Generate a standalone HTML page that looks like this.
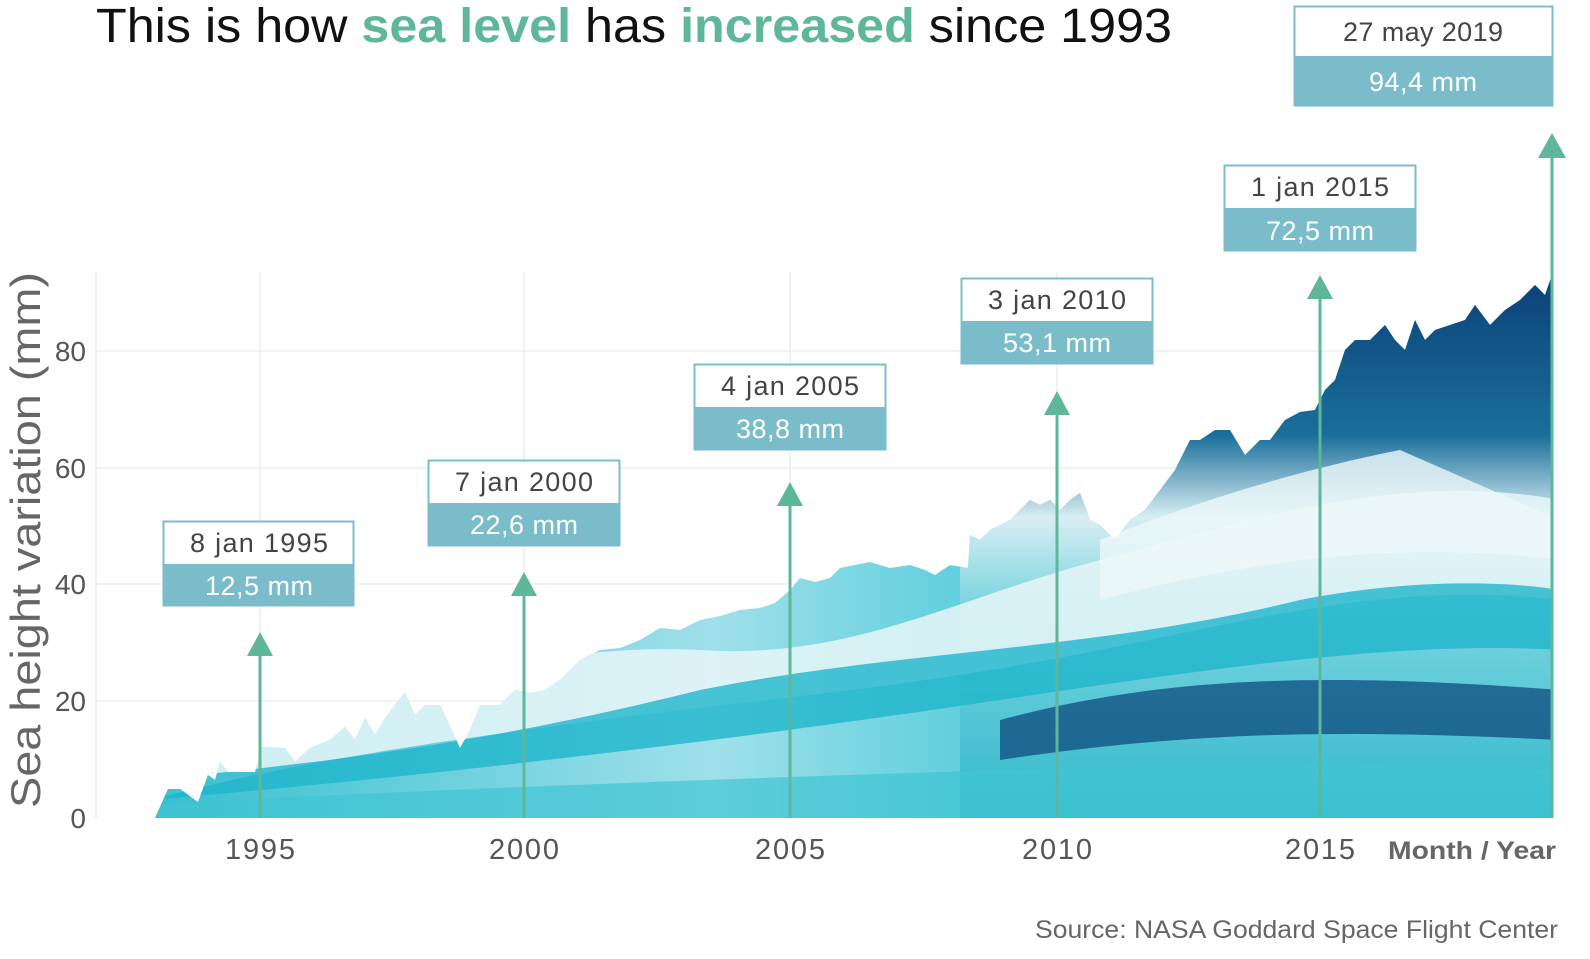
<!DOCTYPE html>
<html><head><meta charset="utf-8"><style>
body{margin:0;background:#fff;}
svg{display:block;font-family:"Liberation Sans",sans-serif;}
</style></head><body>
<svg width="1590" height="959" viewBox="0 0 1590 959" xmlns="http://www.w3.org/2000/svg">
<defs>
<clipPath id="c"><polygon points="155,818 168,789 180,789 198,802 208,775 215,780 220,762 228,772 255,772 262,747 285,748 295,762 310,748 330,740 345,727 355,740 365,718 375,735 385,718 395,705 405,692 415,715 425,705 440,705 445,715 460,748 470,730 480,705 500,705 515,690 530,693 545,690 560,680 580,660 600,650 620,648 640,640 660,628 680,630 700,620 720,616 740,610 760,608 775,603 790,590 800,578 815,582 830,578 840,568 855,565 870,562 890,568 910,565 925,570 935,575 950,565 968,568 970,535 980,540 990,530 1000,525 1010,520 1020,510 1030,500 1040,505 1050,500 1060,510 1070,500 1080,493 1090,520 1100,525 1115,540 1130,520 1145,510 1160,490 1175,470 1190,440 1200,440 1215,430 1230,430 1245,455 1260,440 1270,440 1285,420 1300,412 1315,410 1325,390 1335,380 1345,350 1355,340 1370,340 1385,325 1395,340 1405,350 1415,320 1425,340 1435,330 1450,325 1465,320 1475,305 1490,325 1505,310 1520,300 1535,285 1545,295 1552,275 1552,818"/></clipPath>
<linearGradient id="g1" x1="0" y1="0" x2="0" y2="1">
<stop offset="0" stop-color="#0b3f78"/><stop offset="0.3" stop-color="#1a6f9a"/><stop offset="0.45" stop-color="#d8eef3"/><stop offset="0.6" stop-color="#7fd6e0"/><stop offset="1" stop-color="#2fb8cc"/>
</linearGradient>
<linearGradient id="g2" x1="0" y1="0" x2="1" y2="0">
<stop offset="0" stop-color="#35bfd0"/><stop offset="0.4" stop-color="#9fe0ea"/><stop offset="0.7" stop-color="#34c3d4"/><stop offset="1" stop-color="#1a9cc0"/>
</linearGradient>
</defs>
<g stroke="#e6e6e6" stroke-width="1">
<line x1="96" y1="701" x2="1552" y2="701"/><line x1="96" y1="584" x2="1552" y2="584"/><line x1="96" y1="468" x2="1552" y2="468"/><line x1="96" y1="351" x2="1552" y2="351"/>
<line x1="96" y1="272" x2="96" y2="818"/><line x1="260" y1="272" x2="260" y2="818"/><line x1="524" y1="272" x2="524" y2="818"/><line x1="790" y1="272" x2="790" y2="818"/><line x1="1057" y1="272" x2="1057" y2="818"/><line x1="1320" y1="272" x2="1320" y2="818"/>
</g>
<g clip-path="url(#c)">
<rect x="150" y="270" width="1410" height="550" fill="url(#g2)"/>
<rect x="960" y="270" width="600" height="550" fill="url(#g1)"/>
<path d="M150,760 C350,720 500,640 700,650 C850,660 950,600 1100,560 C1250,520 1400,470 1560,500 L1560,600 C1400,580 1250,620 1100,650 C900,690 750,700 600,720 C450,740 300,760 150,800Z" fill="#e8f6f8" opacity="0.85"/>
<path d="M1100,540 C1200,500 1300,470 1400,450 L1560,520 L1560,560 C1400,540 1250,560 1100,600Z" fill="#eef8fa" opacity="0.8"/>
<path d="M150,780 C350,760 500,740 700,690 C900,650 1100,650 1300,600 C1400,580 1500,580 1560,590 L1560,650 C1400,640 1200,670 1000,700 C800,730 500,770 150,800Z" fill="#1fb5cc" opacity="0.8"/>
<path d="M1000,720 C1150,680 1300,670 1560,690 L1560,740 C1350,730 1200,730 1000,760Z" fill="#0d4b7e" opacity="0.75"/>
<path d="M150,805 C400,790 700,780 1000,770 C1200,765 1400,760 1560,770 L1560,820 L150,820Z" fill="#40c4d3" opacity="0.7"/>
</g>
<g fill="#5fb79a" stroke="#5fb79a">
<line x1="260" y1="818" x2="260" y2="650" stroke-width="3"/><polygon points="247,656 273,656 260,632" stroke="none"/>
<line x1="524" y1="818" x2="524" y2="590" stroke-width="3"/><polygon points="511,596 537,596 524,572" stroke="none"/>
<line x1="790" y1="818" x2="790" y2="500" stroke-width="3"/><polygon points="777,506 803,506 790,482" stroke="none"/>
<line x1="1057" y1="818" x2="1057" y2="410" stroke-width="3"/><polygon points="1044,415 1070,415 1057,391" stroke="none"/>
<line x1="1320" y1="818" x2="1320" y2="294" stroke-width="3"/><polygon points="1307,299 1333,299 1320,275" stroke="none"/>
<line x1="1552" y1="818" x2="1552" y2="152" stroke-width="3"/><polygon points="1538,158 1566,158 1552,133" stroke="none"/>
</g>
<g font-size="27" text-anchor="middle" lengthAdjust="spacingAndGlyphs">
<rect x="163.5" y="521.5" width="190" height="84" fill="#fff" stroke="#7bbccb" stroke-width="2"/><rect x="163" y="564" width="191" height="42" fill="#7bbccb"/>
<text x="259" y="552" fill="#444" textLength="138">8 jan 1995</text><text x="259" y="595" fill="#fff" textLength="108">12,5 mm</text>
<rect x="428.5" y="460.5" width="191" height="85" fill="#fff" stroke="#7bbccb" stroke-width="2"/><rect x="428" y="503" width="192" height="43" fill="#7bbccb"/>
<text x="524" y="491" fill="#444" textLength="138">7 jan 2000</text><text x="524" y="534" fill="#fff" textLength="108">22,6 mm</text>
<rect x="694.5" y="364.5" width="191" height="85" fill="#fff" stroke="#7bbccb" stroke-width="2"/><rect x="694" y="407" width="192" height="43" fill="#7bbccb"/>
<text x="790" y="395" fill="#444" textLength="138">4 jan 2005</text><text x="790" y="438" fill="#fff" textLength="108">38,8 mm</text>
<rect x="961.5" y="278.5" width="191" height="85" fill="#fff" stroke="#7bbccb" stroke-width="2"/><rect x="961" y="321" width="192" height="43" fill="#7bbccb"/>
<text x="1057" y="309" fill="#444" textLength="138">3 jan 2010</text><text x="1057" y="352" fill="#fff" textLength="108">53,1 mm</text>
<rect x="1224.5" y="165.5" width="191" height="85" fill="#fff" stroke="#7bbccb" stroke-width="2"/><rect x="1224" y="208" width="192" height="43" fill="#7bbccb"/>
<text x="1320" y="196" fill="#444" textLength="138">1 jan 2015</text><text x="1320" y="240" fill="#fff" textLength="108">72,5 mm</text>
<rect x="1294.5" y="6.5" width="258" height="99" fill="#fff" stroke="#7bbccb" stroke-width="2"/><rect x="1294" y="56" width="259" height="50" fill="#7bbccb"/>
<text x="1423" y="41" fill="#444" textLength="160">27 may 2019</text><text x="1423" y="91" fill="#fff" textLength="108">94,4 mm</text>
</g>
<text x="96" y="42" font-size="48" fill="#111" textLength="1076" lengthAdjust="spacingAndGlyphs">This is how <tspan fill="#5fb79a" font-weight="bold">sea level</tspan> has <tspan fill="#5fb79a" font-weight="bold">increased</tspan> since 1993</text>
<g font-size="28" fill="#555" text-anchor="end">
<text x="86" y="828">0</text><text x="86" y="711">20</text><text x="86" y="594">40</text><text x="86" y="478">60</text><text x="86" y="361">80</text>
</g>
<g font-size="29" fill="#555" text-anchor="middle">
<text x="260" y="859" textLength="70">1995</text><text x="524" y="859" textLength="70">2000</text><text x="790" y="859" textLength="70">2005</text><text x="1057" y="859" textLength="70">2010</text><text x="1320" y="859" textLength="70">2015</text>
</g>
<text x="1556" y="859" font-size="25" font-weight="bold" fill="#666" text-anchor="end" textLength="168" lengthAdjust="spacingAndGlyphs">Month / Year</text>
<text transform="translate(40,540) rotate(-90)" font-size="42" fill="#666" text-anchor="middle" textLength="536" lengthAdjust="spacingAndGlyphs">Sea height variation (mm)</text>
<text x="1558" y="938" font-size="25" fill="#666" text-anchor="end" textLength="523" lengthAdjust="spacingAndGlyphs">Source: NASA Goddard Space Flight Center</text>
</svg>
</body></html>
